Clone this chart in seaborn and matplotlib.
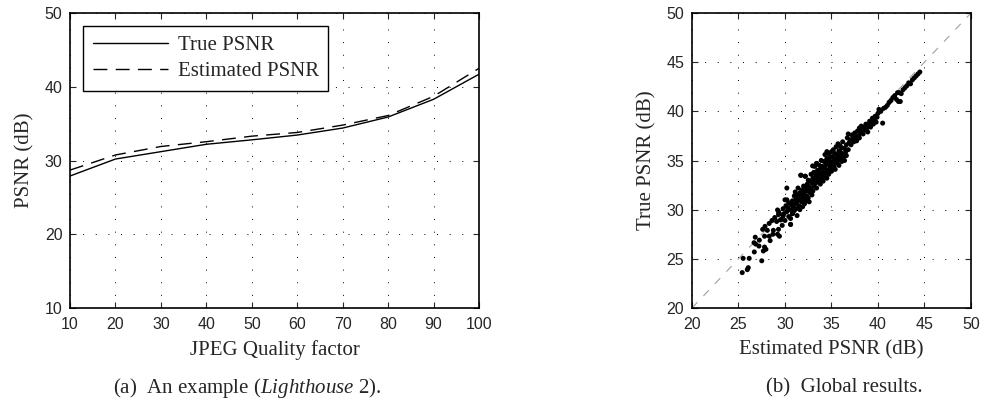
import numpy as np
import pandas as pd
import matplotlib
matplotlib.use("Agg")
import matplotlib.pyplot as plt
import seaborn as sns

# (a) single image, PSNR vs JPEG quality
quality = [10, 20, 30, 40, 50, 60, 70, 80, 90, 100]
true_psnr_curve = [27.9, 30.2, 31.2, 32.2, 32.8, 33.45, 34.4, 35.9, 38.3, 41.7]
est_psnr_curve = [28.7, 30.75, 31.9, 32.55, 33.3, 33.8, 34.8, 36.1, 38.7, 42.5]

# (b) global results, estimated vs true PSNR
est_psnr = [
    25.4, 25.95, 26.05, 25.5, 26.15, 26.7, 27.5, 26.85, 27.2, 27.67,
    27.8, 27.95, 27.24, 26.67, 26.8, 27.8, 28.4, 28.3, 27.6, 28.1,
    28.7, 28.75, 29.2, 29.4, 29.3, 27.85, 28.3, 28.6, 29.1, 28.9,
    29.5, 29.4, 29.8, 30.6, 30.8, 29.2, 29.3, 30.6,
    29.6, 29.7, 29.8, 29.9, 30.0, 30.1, 30.2, 30.2, 30.3, 30.4,
    30.4, 30.5, 30.6, 30.7, 30.8, 30.8, 30.9, 31.0, 31.0, 31.1,
    31.1, 31.2, 31.2, 31.3, 31.3, 31.4, 31.4, 31.5, 31.5, 31.6,
    31.6, 31.7, 31.7, 31.8, 31.8, 31.9, 31.9, 32.0, 32.0, 32.1,
    32.1, 32.2, 32.2, 32.3, 32.3, 32.4, 32.4, 32.5, 32.5, 32.6,
    32.6, 32.7, 32.7, 32.8, 32.8, 32.9, 32.9, 33.0, 33.0, 30.2,
    30.0, 29.3, 31.7, 32.15,
    33.1, 33.1, 33.2, 33.2, 33.3, 33.3, 33.4, 33.4, 33.5, 33.5,
    33.6, 33.6, 33.7, 33.7, 33.8, 33.8, 33.9, 33.9, 34.0, 34.0,
    34.1, 34.1, 34.2, 34.2, 34.3, 34.3, 34.4, 34.4, 34.5, 34.5,
    34.6, 34.6, 34.7, 34.7, 34.8, 34.8, 34.9, 34.9, 35.0, 35.0,
    35.1, 35.1, 35.2, 35.2, 35.3, 35.3, 35.4, 35.4, 35.5, 35.5,
    35.6, 35.6, 35.7, 35.7, 35.8, 35.8, 35.9, 35.9, 36.0, 36.0,
    36.1, 36.1, 36.2, 36.2, 36.3, 36.4, 36.4, 36.5, 36.6, 36.6,
    36.7, 36.8, 36.8, 36.9, 32.97, 33.4, 34.5, 37.9,
    37.0, 37.1, 37.2, 37.3, 37.4, 37.5, 37.6, 37.7, 37.8, 37.9,
    38.0, 38.0, 38.1, 38.2, 38.3, 38.4, 38.5, 38.6, 38.7, 38.8,
    38.9, 39.0, 39.1, 39.2, 39.3, 39.4, 39.5, 39.6, 39.7, 39.8,
    39.9, 40.0, 40.1, 40.3, 40.5,
    40.6, 40.8, 41.0, 41.2, 41.4, 41.6, 41.8, 42.0, 42.2, 42.3,
    42.5, 42.7, 42.9, 43.1, 43.3, 43.5, 43.7, 43.9, 44.1, 44.3,
    44.5, 42.1, 42.4,
]
true_psnr = [
    23.6, 23.9, 24.1, 25.05, 25.05, 25.7, 24.8, 26.5, 26.3, 25.8,
    26.2, 25.97, 26.9, 26.64, 27.2, 27.3, 26.85, 27.3, 28.0, 27.9,
    27.5, 27.9, 27.5, 27.3, 28.0, 28.3, 28.6, 28.9, 28.8, 29.2,
    28.95, 29.6, 29.35, 29.1, 29.6, 29.97, 29.5, 28.5,
    29.0, 28.4, 30.1, 29.6, 28.9, 30.4, 29.8, 31.0, 30.2, 29.3,
    30.7, 30.0, 28.5, 30.5, 29.6, 30.9, 30.2, 31.4, 29.9, 30.6,
    31.8, 30.1, 31.1, 29.4, 30.8, 31.5, 32.2, 30.4, 31.0, 31.7,
    30.0, 33.5, 31.3, 30.8, 32.0, 31.5, 30.3, 32.4, 31.1, 30.6,
    31.8, 33.4, 32.2, 31.4, 30.9, 32.6, 31.9, 31.2, 33.0, 32.3,
    30.8, 31.7, 32.9, 33.6, 32.1, 31.5, 32.7, 33.2, 31.9, 32.2,
    31.0, 29.8, 33.5, 33.4,
    32.4, 33.8, 33.0, 34.4, 32.7, 33.5, 34.7, 32.2, 33.2, 34.0,
    32.9, 33.7, 34.5, 33.3, 32.6, 34.1, 33.6, 35.0, 33.1, 34.4,
    33.8, 32.9, 34.9, 33.4, 34.2, 35.6, 33.7, 34.6, 33.2, 35.2,
    34.0, 34.8, 35.7, 33.6, 34.4, 35.3, 34.0, 34.9, 35.9, 33.9,
    34.6, 35.4, 34.2, 36.1, 35.0, 34.5, 35.7, 34.1, 35.2, 36.4,
    34.8, 35.6, 36.7, 35.0, 34.5, 36.0, 35.4, 36.5, 35.1, 35.8,
    36.3, 34.9, 35.6, 36.9, 35.3, 36.2, 35.0, 35.8, 36.6, 35.5,
    37.3, 36.1, 37.7, 36.8, 34.45, 34.7, 35.9, 37.3,
    37.1, 36.6, 37.6, 37.2, 36.9, 37.8, 37.4, 37.0, 38.0, 37.5,
    38.3, 37.3, 37.8, 38.5, 38.1, 37.7, 38.4, 38.1, 38.7, 38.3,
    37.9, 38.6, 39.0, 38.4, 38.9, 39.3, 38.7, 39.1, 39.5, 38.9,
    39.4, 39.8, 40.2, 40.0, 38.8,
    40.3, 40.4, 40.6, 40.9, 41.1, 41.4, 41.6, 41.2, 41.0, 41.9,
    41.8, 42.2, 42.4, 42.6, 42.9, 42.8, 43.2, 43.4, 43.6, 43.8,
    44.0, 41.9, 41.0,
]

sns.set_style("ticks")
plt.rcParams["font.family"] = ["Liberation Sans", "DejaVu Sans"]
plt.rcParams["mathtext.fontset"] = "custom"
plt.rcParams["mathtext.rm"] = "Liberation Serif"
plt.rcParams["mathtext.it"] = "Liberation Serif:italic"
serif = ["Liberation Serif", "DejaVu Serif"]

fig = plt.figure(figsize=(9.81, 4.01), dpi=100)
ax1 = fig.add_axes([0.0714, 0.2319, 0.4169, 0.7357])
ax2 = fig.add_axes([0.7054, 0.2319, 0.2844, 0.7357])

grid_kw = dict(color="black", linestyle=(0, (1, 12)), linewidth=0.7)

# left panel
curve = pd.DataFrame({"q": quality, "true": true_psnr_curve, "est": est_psnr_curve})
sns.lineplot(data=curve, x="q", y="true", ax=ax1, color="black", lw=1.0,
             label="True PSNR")
sns.lineplot(data=curve, x="q", y="est", ax=ax1, color="black", lw=1.0,
             linestyle=(0, (10, 6)), label="Estimated PSNR")
ax1.set_xlim(10, 100)
ax1.set_ylim(10, 50)
ax1.set_xticks(range(10, 101, 10))
ax1.set_yticks(range(10, 51, 10))
ax1.set_xlabel("JPEG Quality factor", family=serif, fontsize=15, labelpad=6)
ax1.set_ylabel("PSNR (dB)", family=serif, fontsize=15, labelpad=7)
leg = ax1.legend(loc="upper left", bbox_to_anchor=(0.032, 0.956), borderaxespad=0,
                 prop={"family": serif, "size": 15}, handlelength=3.6,
                 fancybox=False, framealpha=1, edgecolor="black",
                 borderpad=0.45, labelspacing=0.33, handletextpad=0.5)
leg.get_frame().set_linewidth(1.0)

# right panel
pts = pd.DataFrame({"est": est_psnr, "true": true_psnr})
ax2.plot([20, 50], [20, 50], color="#a0a0a0", lw=0.8, dashes=[7, 8], zorder=1)
sns.scatterplot(data=pts, x="est", y="true", ax=ax2, color="black", s=13,
                edgecolor="none", zorder=3)
ax2.set_xlim(20, 50)
ax2.set_ylim(20, 50)
ax2.set_xticks(range(20, 51, 5))
ax2.set_yticks(range(20, 51, 5))
ax2.set_xlabel("Estimated PSNR (dB)", family=serif, fontsize=15, labelpad=6)
ax2.set_ylabel("True PSNR (dB)", family=serif, fontsize=15, labelpad=7)

for ax in (ax1, ax2):
    ax.grid(True, **grid_kw)
    ax.tick_params(direction="in", top=True, right=True, length=4,
                   labelsize=11.5, width=0.8)
    ax.tick_params(axis="x", pad=6.5)
    ax.tick_params(axis="y", pad=5.5)
    for sp in ax.spines.values():
        sp.set_linewidth(1.2)
        sp.set_color("black")

fig.text(0.252, 0.02, r"(a)  An example ($\mathit{Lighthouse\ 2}$).",
         family=serif, fontsize=15, ha="center")
fig.text(0.861, 0.02, "(b)  Global results.", family=serif, fontsize=15,
         ha="center")

fig.savefig("out.png", dpi=100)
